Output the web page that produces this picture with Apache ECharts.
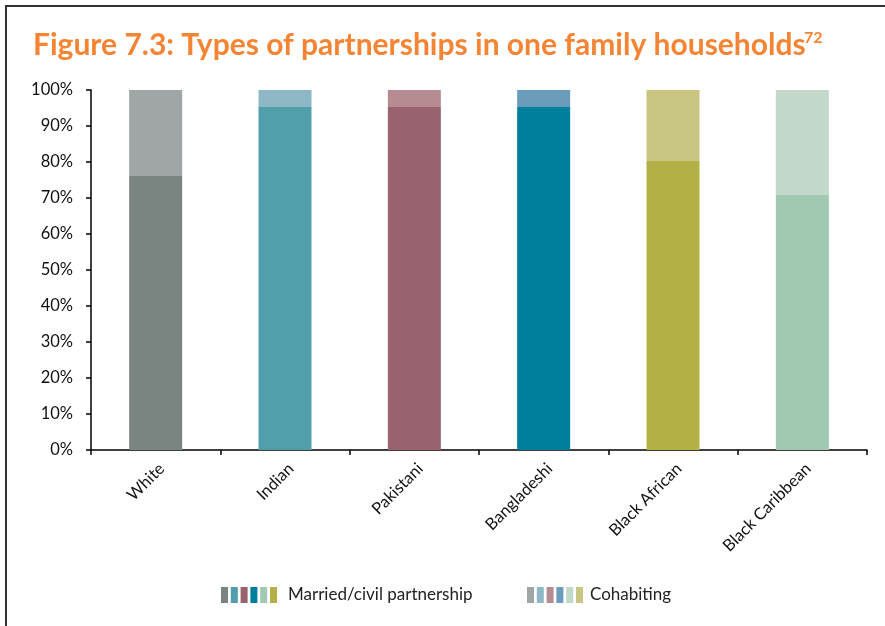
<!DOCTYPE html>
<html>
<head>
<meta charset="utf-8">
<script src="https://cdn.jsdelivr.net/npm/echarts@6/dist/echarts.min.js"></script>
<style>
html,body{margin:0;padding:0;background:#fff;}
#chart{width:885px;height:626px;}
</style>
</head>
<body>
<div id="chart"></div>
<script>
var categories = ['White', 'Indian', 'Pakistani', 'Bangladeshi', 'Black African', 'Black Caribbean'];
var married = [76.1, 95.3, 95.3, 95.3, 80.3, 70.8];
var cohabiting = [23.9, 4.7, 4.7, 4.7, 19.7, 29.2];
var marriedColors = ['#7a8480', '#529fac', '#98626f', '#007f9c', '#b3b046', '#a1c8b1'];
var cohabitingColors = ['#a0a6a5', '#8fb8c6', '#b68c92', '#6a9cbb', '#c9c683', '#c1d8ca'];
var legendOrder = [0, 1, 2, 3, 5, 4];
var seriesNames = ['Married/civil partnership', 'Cohabiting'];
var yTicks = [0, 10, 20, 30, 40, 50, 60, 70, 80, 90, 100];
var titleText = 'Figure 7.3: Types of partnerships in one family households';
var titleSup = '72';

var chart = echarts.init(document.getElementById('chart'));

function coloredData(vals, colors) {
  return vals.map(function (v, i) { return { value: v, itemStyle: { color: colors[i] } }; });
}

var graphics = [
  { type: 'polyline', shape: { points: [[6, 626], [6, 6], [885, 6]] }, style: { stroke: '#333', lineWidth: 2, fill: null } },
  { type: 'text', x: 33, y: 45, style: { text: titleText, fill: '#f58535', font: 'bold 30px Lato', verticalAlign: 'middle' } },
  { type: 'text', x: 804, y: 38, style: { text: titleSup, fill: '#f58535', font: 'bold 16px Lato', verticalAlign: 'middle' } }
];

function legendGroup(x0, colors, name, textGap) {
  legendOrder.forEach(function (idx, k) {
    graphics.push({ type: 'rect', shape: { x: x0 + k * 9.8, y: 587, width: 7, height: 16 }, style: { fill: colors[idx] } });
  });
  graphics.push({ type: 'text', x: x0 + textGap, y: 595, style: { text: name, fill: '#222', font: '17px Lato', verticalAlign: 'middle' } });
}
legendGroup(221, marriedColors, seriesNames[0], 67);
legendGroup(527, cohabitingColors, seriesNames[1], 63);

var option = {
  animation: false,
  backgroundColor: '#fff',
  grid: { left: 91, right: 18, top: 90, bottom: 176, containLabel: false },
  xAxis: {
    type: 'category',
    data: categories,
    axisLine: { lineStyle: { color: '#000', width: 1.5 } },
    axisTick: { show: true, length: 5, lineStyle: { color: '#000', width: 1.5 } },
    axisLabel: { rotate: 45, color: '#111', fontSize: 16.5, fontFamily: 'Lato', margin: 10, interval: 0, verticalAlign: 'top' }
  },
  yAxis: {
    type: 'value',
    min: 0, max: 100, interval: 10,
    axisLine: { show: true, lineStyle: { color: '#000', width: 1.5 } },
    axisTick: { show: true, length: 5, lineStyle: { color: '#000', width: 1.5 } },
    splitLine: { show: false },
    axisLabel: { color: '#111', fontSize: 16.5, fontFamily: 'Lato', margin: 18, formatter: function (v) { return yTicks.indexOf(v) >= 0 ? v + '%' : ''; } }
  },
  series: [
    { name: seriesNames[0], type: 'bar', stack: 'total', barWidth: 53, data: coloredData(married, marriedColors) },
    { name: seriesNames[1], type: 'bar', stack: 'total', barWidth: 53, data: coloredData(cohabiting, cohabitingColors) }
  ],
  graphic: graphics
};
chart.setOption(option);
</script>
</body>
</html>
